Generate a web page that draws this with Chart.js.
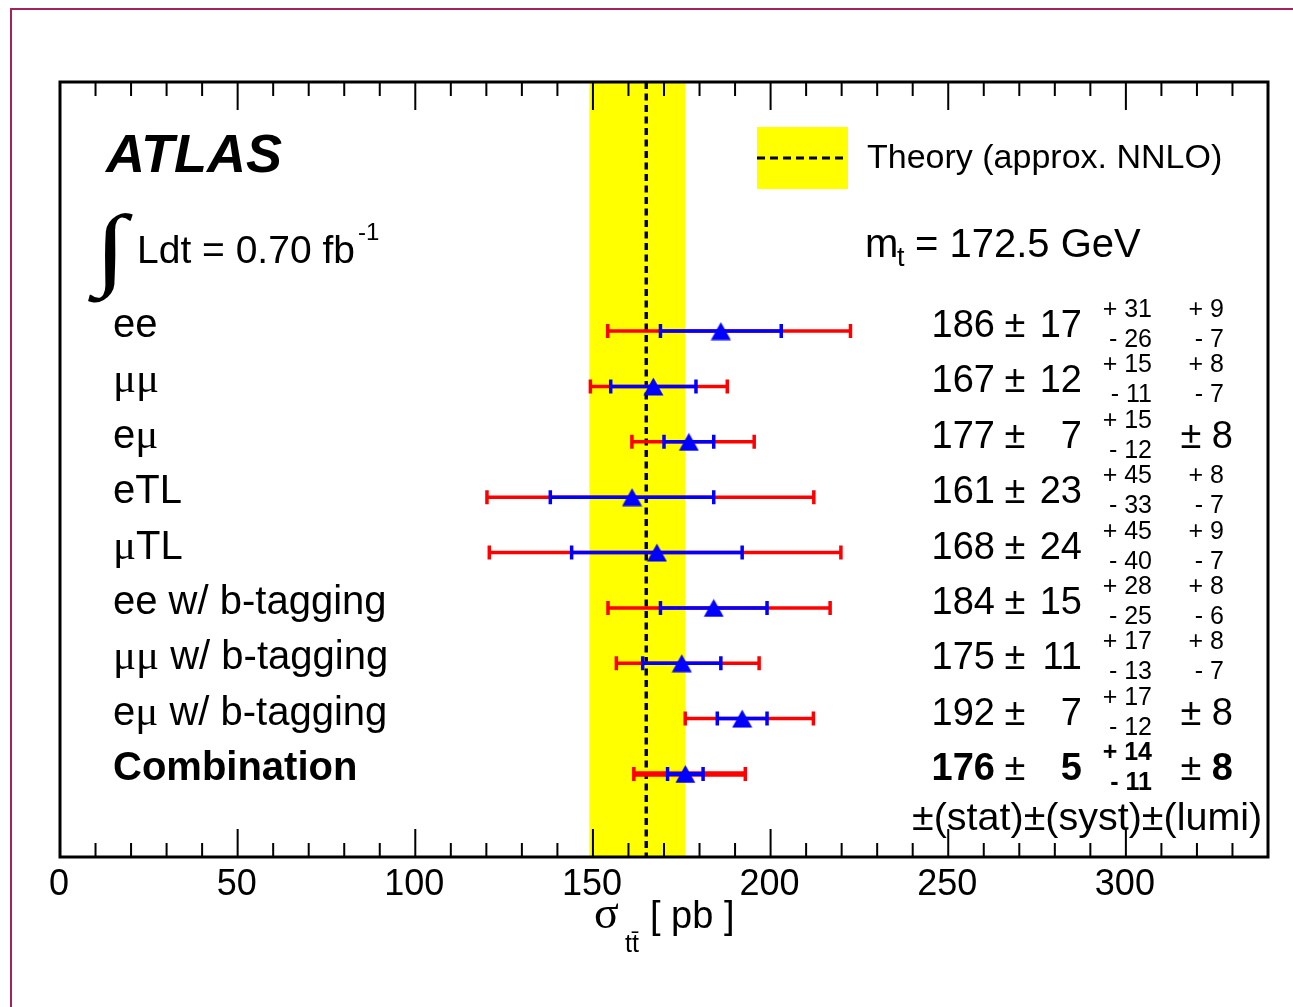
<!DOCTYPE html>
<html><head><meta charset="utf-8">
<script src="https://cdn.jsdelivr.net/npm/chart.js@4.4.1/dist/chart.umd.min.js"></script>
<style>html,body{margin:0;padding:0;background:#fff;}#wrap{width:1293px;height:1007px;}</style>
</head><body><div id="wrap"><canvas id="c" width="1293" height="1007"></canvas></div>
<script>
// ---- data ----
const channels = ['ee','μμ','eμ','eTL','μTL','ee w/ b-tagging','μμ w/ b-tagging','eμ w/ b-tagging','Combination'];
const xsec     = [186,167,177,161,168,184,175,192,176];
const statErr  = [17,12,7,23,24,15,11,7,5];
const systUp   = [31,15,15,45,45,28,17,17,14];
const systDown = [26,11,12,33,40,25,13,12,11];
const lumiUp   = [9,8,8,8,9,8,8,8,8];
const lumiDown = [7,7,8,7,7,6,7,8,8];
const theoryCentral = 165, theoryLow = 149, theoryHigh = 176;
const xTickLabels = [0,50,100,150,200,250,300];
const xMin = 0, xMax = 340, xMinorStep = 10, xMajorStep = 50;

const SANS = "'Liberation Sans', Arial, Helvetica, sans-serif";
const SERIF = "'Liberation Serif', 'Times New Roman', serif";
const rowOffset = 4.5; // first row position on the (reversed) y scale

// triangle marker image centred on its point
const tri = document.createElement('canvas');
tri.width = 21; tri.height = 19;
{ const t = tri.getContext('2d'); t.fillStyle = '#0000ff'; t.beginPath();
  t.moveTo(10.5, 0.5); t.lineTo(20.5, 18.5); t.lineTo(0.5, 18.5); t.closePath(); t.fill(); }

function runs(ctx, x, y, parts, align) {
  let w = 0;
  parts.forEach(p => { ctx.font = p.f; p.w = ctx.measureText(p.t).width; w += p.w; });
  let cx = align === 'right' ? x - w : align === 'center' ? x - w / 2 : x;
  parts.forEach(p => { ctx.font = p.f; ctx.fillText(p.t, cx, y + (p.dy || 0)); cx += p.w; });
}
function labelParts(name, size, bold) {
  const parts = [];
  for (const ch of name) {
    const greek = /[\u0370-\u03ff]/.test(ch);
    const f = (bold ? 'bold ' : '') + (greek ? (size + 3) : size) + 'px ' + (greek ? SERIF : SANS);
    if (parts.length && parts[parts.length - 1].f === f) parts[parts.length - 1].t += ch;
    else parts.push({ t: ch, f });
  }
  return parts;
}

const deco = {
  id: 'deco',
  beforeDraw(chart) {
    const ctx = chart.ctx;
    ctx.save();
    ctx.fillStyle = '#fff'; ctx.fillRect(0, 0, chart.width, chart.height);
    ctx.strokeStyle = '#a3235f'; ctx.lineWidth = 2;
    ctx.beginPath(); ctx.moveTo(11, 1007); ctx.lineTo(11, 9); ctx.lineTo(1293, 9); ctx.stroke();
    ctx.restore();
  },
  beforeDatasetsDraw(chart) {
    const ctx = chart.ctx, xs = chart.scales.x, ys = chart.scales.y, a = chart.chartArea;
    ctx.save();
    // theory band
    const bl = xs.getPixelForValue(theoryLow), bh = xs.getPixelForValue(theoryHigh);
    ctx.fillStyle = '#ffff00'; ctx.fillRect(bl, a.top, bh - bl, a.bottom - a.top);
    const tx = xs.getPixelForValue(theoryCentral);
    ctx.strokeStyle = '#000'; ctx.lineWidth = 3.4; ctx.setLineDash([7, 4.5]);
    ctx.beginPath(); ctx.moveTo(tx, a.top); ctx.lineTo(tx, a.bottom); ctx.stroke();
    ctx.setLineDash([]);
    // error bars
    channels.forEach((name, i) => {
      const y = ys.getPixelForValue(rowOffset + i);
      const lo = Math.sqrt(statErr[i] ** 2 + systDown[i] ** 2 + lumiDown[i] ** 2);
      const hi = Math.sqrt(statErr[i] ** 2 + systUp[i] ** 2 + lumiUp[i] ** 2);
      const comb = name === 'Combination';
      const bar = (x1, x2, col, lw) => {
        ctx.strokeStyle = col; ctx.lineWidth = lw;
        ctx.beginPath(); ctx.moveTo(x1, y); ctx.lineTo(x2, y); ctx.stroke();
        ctx.lineWidth = 3.5;
        ctx.beginPath(); ctx.moveTo(x1, y - 7); ctx.lineTo(x1, y + 7);
        ctx.moveTo(x2, y - 7); ctx.lineTo(x2, y + 7); ctx.stroke();
      };
      bar(xs.getPixelForValue(xsec[i] - lo), xs.getPixelForValue(xsec[i] + hi), '#ff0000', comb ? 5.5 : 3.5);
      bar(xs.getPixelForValue(xsec[i] - statErr[i]), xs.getPixelForValue(xsec[i] + statErr[i]), '#0000ff', comb ? 4 : 3.5);
    });
    ctx.restore();
  },
  afterDatasetsDraw(chart) {
    const ctx = chart.ctx, xs = chart.scales.x, ys = chart.scales.y, a = chart.chartArea;
    ctx.save();
    // frame + ticks
    ctx.strokeStyle = '#000'; ctx.lineWidth = 2;
    for (let v = xMin + xMinorStep; v < xMax; v += xMinorStep) {
      const px = xs.getPixelForValue(v);
      const len = v % xMajorStep === 0 ? 28 : 14;
      ctx.beginPath();
      ctx.moveTo(px, a.top); ctx.lineTo(px, a.top + len);
      ctx.moveTo(px, a.bottom); ctx.lineTo(px, a.bottom - len);
      ctx.stroke();
    }
    ctx.lineWidth = 3;
    ctx.strokeRect(a.left, a.top, a.right - a.left, a.bottom - a.top);
    // tick labels
    ctx.fillStyle = '#000'; ctx.textAlign = 'left'; ctx.textBaseline = 'alphabetic';
    ctx.font = '36px ' + SANS;
    xTickLabels.forEach(v => {
      const s = String(v); const w = ctx.measureText(s).width;
      ctx.fillText(s, xs.getPixelForValue(v) - w / 2 - 1, 895);
    });
    // axis title
    ctx.font = '46px ' + SERIF; ctx.fillText('σ', 594, 928);
    ctx.font = '25px ' + SANS; ctx.fillText('tt\u0304', 625, 952);
    ctx.font = '38px ' + SANS; ctx.fillText('[ pb ]', 650, 928);
    // ATLAS
    ctx.font = 'italic bold 54px ' + SANS; ctx.fillText('ATLAS', 106, 172);
    // integral
    ctx.save(); ctx.translate(94, 278); ctx.scale(1.3, 1);
    ctx.font = '91px ' + SERIF; ctx.fillText('∫', 0, 0);
    ctx.restore();
    ctx.font = '39px ' + SANS; ctx.fillText('Ldt = 0.70 fb', 137, 263);
    ctx.font = '24px ' + SANS; ctx.fillText('-1', 358, 240);
    // m_t
    ctx.font = '40px ' + SANS; ctx.fillText('m', 865, 257);
    ctx.font = '27px ' + SANS; ctx.fillText('t', 897, 266);
    ctx.font = '40px ' + SANS; ctx.fillText('= 172.5 GeV', 915, 257);
    // legend
    ctx.fillStyle = '#ffff00'; ctx.fillRect(757, 127, 91, 62);
    ctx.strokeStyle = '#000'; ctx.lineWidth = 3; ctx.setLineDash([8, 5]);
    ctx.beginPath(); ctx.moveTo(757, 158); ctx.lineTo(848, 158); ctx.stroke(); ctx.setLineDash([]);
    ctx.fillStyle = '#000'; ctx.font = '34px ' + SANS; ctx.fillText('Theory (approx. NNLO)', 867, 168);
    // rows
    channels.forEach((name, i) => {
      const y = ys.getPixelForValue(rowOffset + i);
      const b = name === 'Combination';
      const B = b ? 'bold ' : '';
      runs(ctx, 113, y + 6, labelParts(name, 40, b), 'left');
      runs(ctx, 995, y + 6, [{ t: String(xsec[i]), f: B + '38px ' + SANS }], 'right');
      runs(ctx, 1015, y + 6, [{ t: '±', f: '38px ' + SANS }], 'center');
      runs(ctx, 1082, y + 6, [{ t: String(statErr[i]), f: B + '38px ' + SANS }], 'right');
      runs(ctx, 1152, y - 14, [{ t: '+ ' + systUp[i], f: B + '25px ' + SANS }], 'right');
      runs(ctx, 1152, y + 16, [{ t: '- ' + systDown[i], f: B + '25px ' + SANS }], 'right');
      if (lumiUp[i] === lumiDown[i]) {
        runs(ctx, 1233, y + 6, [{ t: '± ', f: '38px ' + SANS }, { t: String(lumiUp[i]), f: B + '38px ' + SANS }], 'right');
      } else {
        runs(ctx, 1224, y - 14, [{ t: '+ ' + lumiUp[i], f: '25px ' + SANS }], 'right');
        runs(ctx, 1224, y + 16, [{ t: '- ' + lumiDown[i], f: '25px ' + SANS }], 'right');
      }
    });
    ctx.font = '39.5px ' + SANS; ctx.fillText('±(stat)±(syst)±(lumi)', 912, 830);
    ctx.restore();
  }
};

new Chart(document.getElementById('c'), {
  type: 'scatter',
  data: {
    datasets: [{
      data: xsec.map((v, i) => ({ x: v, y: rowOffset + i })),
      pointStyle: tri, pointRadius: 10, pointHoverRadius: 10
    }]
  },
  options: {
    responsive: false, animation: false, devicePixelRatio: 1,
    layout: { padding: { left: 60, top: 82, right: 25, bottom: 150 } },
    scales: {
      x: { type: 'linear', min: xMin, max: xMax, display: false },
      y: { type: 'linear', min: 0, max: 14, reverse: true, display: false }
    },
    plugins: { legend: { display: false }, tooltip: { enabled: false } },
    events: []
  },
  plugins: [deco]
});
</script></body></html>
